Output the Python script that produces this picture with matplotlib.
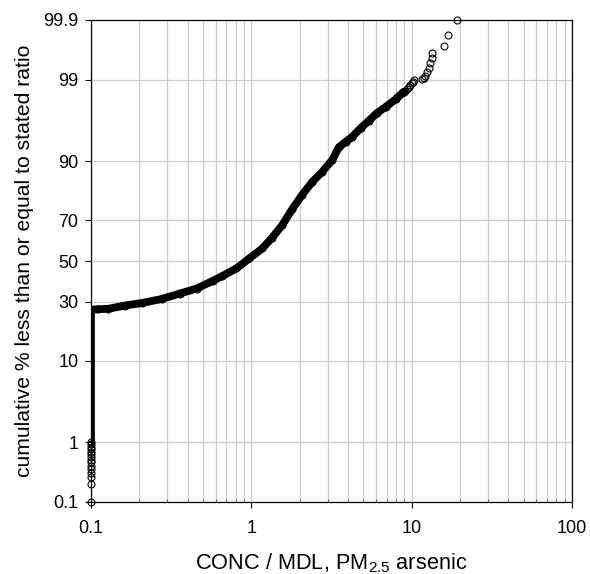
import numpy as np
import matplotlib
matplotlib.use("Agg")
import matplotlib.pyplot as plt
from matplotlib.ticker import FixedLocator, NullFormatter, LogLocator
from statistics import NormalDist

plt.rcParams["font.family"] = ["Liberation Sans", "DejaVu Sans"]
plt.rcParams["mathtext.fontset"] = "custom"
plt.rcParams["mathtext.rm"] = "Liberation Sans"
plt.rcParams["mathtext.default"] = "regular"

# ---- data (ratio = CONC / MDL, pct = cumulative %) ----
# open circles stacked at the detection-limit ratio, bottom of the stack
stack_ratio = [0.1] * 15
stack_pct = [0.1, 0.21, 0.28, 0.33, 0.38, 0.43, 0.49, 0.54, 0.59, 0.66,
             0.72, 0.80, 0.86, 0.95, 1.03]

# dense part of the curve (overlapping circles form a solid band)
curve_ratio = [0.1, 0.1, 0.11, 0.128, 0.163, 0.207, 0.276, 0.357, 0.456,
               0.573, 0.660, 0.807, 0.972, 1.17, 1.35, 1.56, 1.80, 2.07,
               2.39, 2.76, 3.19, 3.52, 3.89, 4.24, 4.82, 5.41, 6.06, 6.90,
               7.96, 8.92]
curve_pct = [1.0, 26.6, 26.8, 27.0, 28.4, 29.5, 31.3, 33.8, 36.2, 39.9,
             42.4, 46.2, 51.3, 56.4, 61.8, 67.8, 74.7, 80.1, 84.4, 87.3,
             90.2, 92.8, 93.7, 94.4, 95.6, 96.4, 97.1, 97.6, 98.1, 98.5]

# individual circles in the upper tail
tail_ratio = [8.11, 8.71, 9.14, 9.35, 9.58, 9.80, 10.04, 10.15, 10.29, 11.6,
              11.87, 12.04, 12.45, 12.75, 13.06, 13.36, 13.36, 15.81, 16.81,
              19.3]
tail_pct = [98.24, 98.42, 98.55, 98.62, 98.70, 98.78, 98.86, 98.93, 98.99,
            99.02, 99.04, 99.12, 99.24, 99.33, 99.44, 99.53, 99.62, 99.71,
            99.81, 99.9]

ytick_vals = [0.1, 1, 10, 30, 50, 70, 90, 99, 99.9]
ytick_labels = ["0.1", "1", "10", "30", "50", "70", "90", "99", "99.9"]
xtick_vals = [0.1, 1, 10, 100]
xtick_labels = ["0.1", "1", "10", "100"]

# ---- probability (normal) scale for the y axis ----
nd = NormalDist()
_ppf = np.vectorize(nd.inv_cdf, otypes=[float])
_cdf = np.vectorize(nd.cdf, otypes=[float])


def fwd(p):
    p = np.clip(np.asarray(p, dtype=float) / 100.0, 1e-12, 1 - 1e-12)
    return _ppf(p)


def inv(z):
    return _cdf(np.asarray(z, dtype=float)) * 100.0


fig = plt.figure(figsize=(5.9, 5.74), dpi=100)
ax = fig.add_axes([91 / 590, 1 - 502 / 574, (572 - 91) / 590, (502 - 20) / 574])
ax.set_xscale("log")
ax.set_yscale("function", functions=(fwd, inv))
ax.set_xlim(0.1, 100)
ax.set_ylim(0.1, 99.9)

mk = dict(marker="o", markersize=5.0, markerfacecolor="none",
          markeredgecolor="black", markeredgewidth=0.8, linestyle="none",
          clip_on=False, zorder=4)

ax.plot(curve_ratio, curve_pct, color="black", linewidth=5.6,
        solid_capstyle="round", solid_joinstyle="round", zorder=3)
ax.plot(curve_ratio[2:], curve_pct[2:], **mk)
ax.plot(stack_ratio, stack_pct, **mk)
ax.plot(tail_ratio, tail_pct, **mk)

# grid
ax.xaxis.set_major_locator(FixedLocator(xtick_vals))
ax.set_xticklabels(xtick_labels)
ax.xaxis.set_minor_locator(LogLocator(base=10, subs=np.arange(2, 10)))
ax.xaxis.set_minor_formatter(NullFormatter())
ax.yaxis.set_major_locator(FixedLocator(ytick_vals))
ax.yaxis.set_minor_locator(FixedLocator([]))
ax.set_yticklabels(ytick_labels)
ax.grid(True, which="both", axis="x", color="#cccccc", linewidth=0.9)
ax.grid(True, which="major", axis="y", color="#cccccc", linewidth=0.9)
ax.set_axisbelow(True)

for s in ax.spines.values():
    s.set_color("black")
    s.set_linewidth(0.9)

ax.tick_params(axis="both", which="major", direction="out", length=4,
               width=0.8, labelsize=13, color="black")
ax.tick_params(axis="x", which="major", pad=9)
ax.tick_params(axis="y", which="major", pad=5)
ax.tick_params(axis="x", which="minor", direction="in", length=2.5,
               width=0.6, color="#555555")

ax.set_xlabel("CONC / MDL, PM$_{2.5}$ arsenic", fontsize=15.7, labelpad=10)
ax.set_ylabel("cumulative % less than or equal to stated ratio",
              fontsize=15.2, labelpad=7)

fig.savefig("out.png", dpi=100)
